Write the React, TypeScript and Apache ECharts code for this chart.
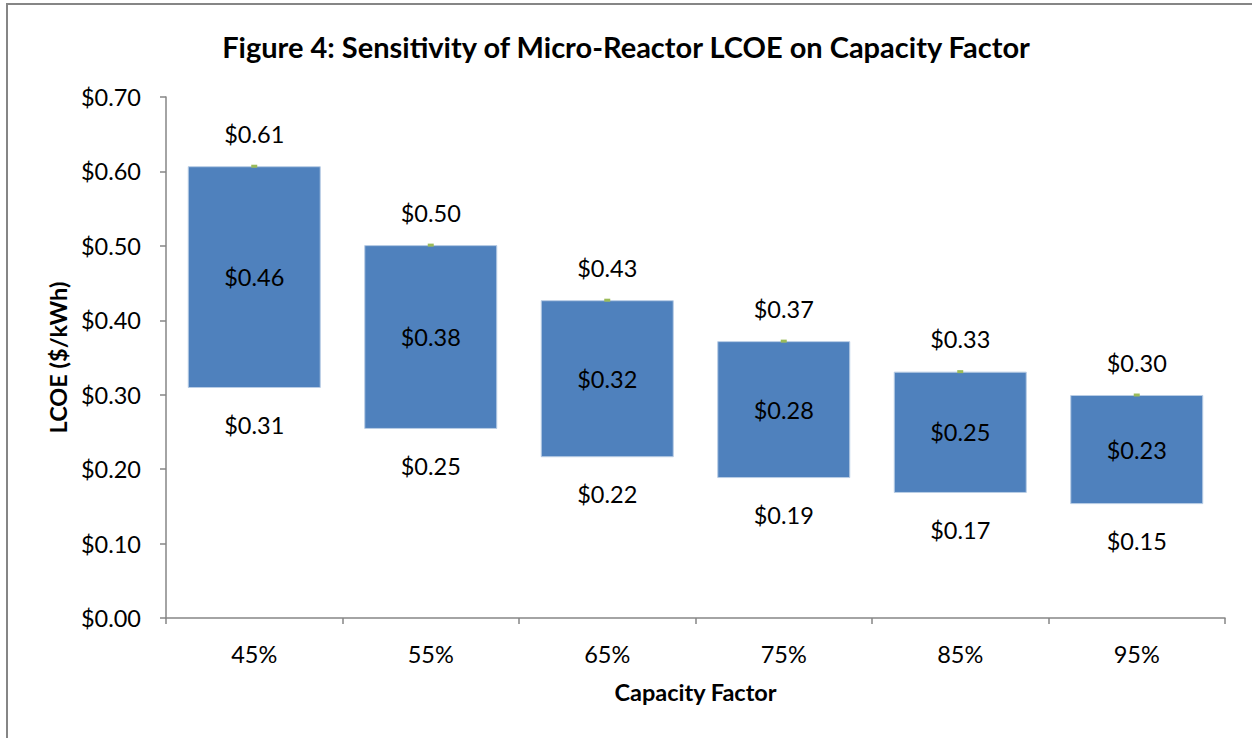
import React, { useEffect, useRef } from "react";
import * as echarts from "echarts";

const categories = ["45%", "55%", "65%", "75%", "85%", "95%"];
const highValues = [0.607, 0.501, 0.427, 0.372, 0.331, 0.2996];
const lowValues = [0.309, 0.254, 0.216, 0.188, 0.168, 0.153];
const midValues = [0.46, 0.38, 0.32, 0.28, 0.25, 0.23];
const yTicks = [0, 0.1, 0.2, 0.3, 0.4, 0.5, 0.6, 0.7];

const FONT = "Lato, 'Open Sans', sans-serif";
const FS = 23.5;
const money = (v: number) => "$" + v.toFixed(2);

export default function App() {
  const ref = useRef<HTMLDivElement>(null);
  useEffect(() => {
    document.body.style.margin = "0";
    if (!ref.current) return;
    const chart = echarts.init(ref.current, undefined, { renderer: "svg" });
    const rangeValues = highValues.map((h, i) => +(h - lowValues[i]).toFixed(4));
    const lbl = { fontFamily: FONT, fontSize: FS, lineHeight: FS, color: "#000", opacity: 1 };
    chart.setOption({
      animation: false,
      backgroundColor: "#ffffff",
      textStyle: { fontFamily: FONT },
      title: {
        text: "Figure 4: Sensitivity of Micro-Reactor LCOE on Capacity Factor",
        left: "center",
        top: 27,
        textStyle: { fontFamily: FONT, fontSize: 29, lineHeight: 29, fontWeight: "bold", color: "#000" },
      },
      graphic: [
        {
          type: "rect",
          shape: { x: 7, y: 4, width: 1300, height: 800 },
          style: { fill: "none", stroke: "#868686", lineWidth: 2 },
          silent: true,
        },
      ],
      grid: { left: 166, right: 27, top: 97, bottom: 120, containLabel: false },
      xAxis: {
        type: "category",
        data: categories,
        name: "Capacity Factor",
        nameLocation: "middle",
        nameGap: 62,
        nameTextStyle: { fontFamily: FONT, fontSize: FS, lineHeight: FS, fontWeight: "bold", color: "#000" },
        axisLine: { lineStyle: { color: "#868686", width: 1.5 } },
        axisTick: { show: true, alignWithLabel: false, length: 6, lineStyle: { color: "#868686", width: 1.5 } },
        axisLabel: { ...lbl, margin: 24 },
        splitLine: { show: false },
      },
      yAxis: {
        type: "value",
        min: yTicks[0],
        max: yTicks[yTicks.length - 1],
        interval: 0.1,
        name: "LCOE ($/kWh)",
        nameLocation: "middle",
        nameGap: 96,
        nameTextStyle: { fontFamily: FONT, fontSize: FS, lineHeight: FS, fontWeight: "bold", color: "#000" },
        axisLine: { show: true, lineStyle: { color: "#868686", width: 1.5 } },
        axisTick: { show: true, length: 6, lineStyle: { color: "#868686", width: 1.5 } },
        axisLabel: { ...lbl, margin: 25, formatter: (v: number) => money(v) },
        splitLine: { show: false },
      },
      series: [
        {
          name: "base",
          type: "bar",
          stack: "a",
          data: lowValues,
          barWidth: 133,
          itemStyle: { color: "rgba(0,0,0,0)" },
          silent: true,
        },
        {
          name: "range",
          type: "bar",
          stack: "a",
          data: rangeValues,
          barWidth: 133,
          itemStyle: { color: "#4F81BD", borderColor: "#B9CDE5", borderWidth: 1 },
          label: {
            show: true,
            position: "inside",
            ...lbl,
            formatter: (p: any) => money(midValues[p.dataIndex]),
          },
        },
        {
          name: "high",
          type: "scatter",
          data: highValues,
          symbol: "rect",
          symbolSize: [6, 3],
          itemStyle: { color: "#9BBB59", opacity: 1 },
          label: {
            show: true,
            position: "top",
            distance: 19,
            ...lbl,
            formatter: (p: any) => money(p.value),
          },
          z: 5,
        },
        {
          name: "low",
          type: "scatter",
          data: lowValues,
          symbol: "circle",
          symbolSize: 1,
          itemStyle: { color: "rgba(0,0,0,0)", opacity: 1 },
          label: {
            show: true,
            position: "bottom",
            distance: 25,
            ...lbl,
            formatter: (p: any) => money(p.value),
          },
          z: 5,
        },
      ],
    });
    return () => chart.dispose();
  }, []);
  return <div ref={ref} style={{ position: "fixed", left: 0, top: 0, width: 1252, height: 738 }} />;
}
